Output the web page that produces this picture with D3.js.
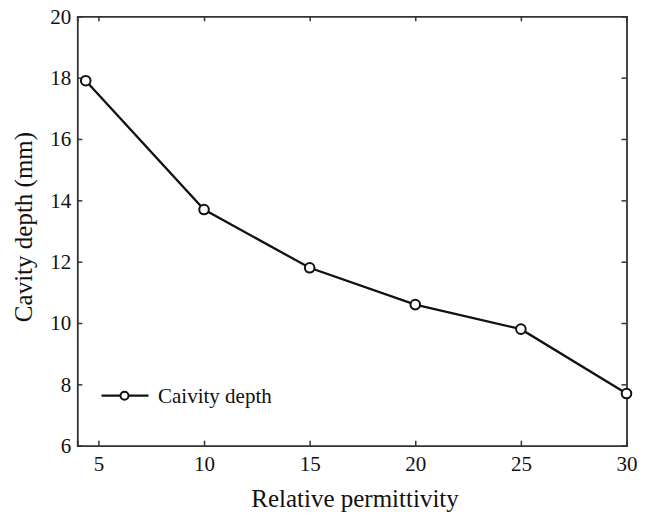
<!DOCTYPE html>
<html>
<head>
<meta charset="utf-8">
<script src="https://cdn.jsdelivr.net/npm/d3@7"></script>
<style>
  body { margin: 0; background: #fff; }
  svg { display: block; }
  text { font-family: "Liberation Serif", "Times New Roman", serif; fill: #111; }
</style>
</head>
<body>
<svg id="chart" width="649" height="515"></svg>
<script>
// Cavity depth versus relative permittivity
const permittivity = [4.4, 10, 15, 20, 25, 30];
const cavityDepth = [17.9, 13.7, 11.8, 10.6, 9.8, 7.7];
const xTicks = [5, 10, 15, 20, 25, 30];
const yTicks = [6, 8, 10, 12, 14, 16, 18, 20];
const seriesName = "Caivity depth";

const svg = d3.select("#chart");
const margin = { left: 77.3, right: 22.5, top: 16.3, bottom: 69.3 };
const W = 649, H = 515;

const x = d3.scaleLinear().domain([4, 30]).range([margin.left, W - margin.right]);
const y = d3.scaleLinear().domain([6, 20]).range([H - margin.bottom, margin.top]);

const stroke = "#333";
const tickLen = 5;
const serif = "'Liberation Serif', 'Times New Roman', serif";

// Bottom axis with inward ticks
const xAxis = svg.append("g")
  .attr("transform", `translate(0,${y(6)})`)
  .call(d3.axisBottom(x).tickValues(xTicks).tickSize(-tickLen).tickPadding(10).tickFormat(d3.format("d")));
// Top mirror ticks
const xAxisTop = svg.append("g")
  .attr("transform", `translate(0,${y(20)})`)
  .call(d3.axisTop(x).tickValues(xTicks).tickSize(-tickLen).tickFormat(""));
// Left axis
const yAxis = svg.append("g")
  .attr("transform", `translate(${x(4)},0)`)
  .call(d3.axisLeft(y).tickValues(yTicks).tickSize(-tickLen).tickPadding(6).tickFormat(d3.format("d")));
// Right mirror ticks
const yAxisRight = svg.append("g")
  .attr("transform", `translate(${x(30)},0)`)
  .call(d3.axisRight(y).tickValues(yTicks).tickSize(-tickLen).tickFormat(""));

[xAxis, xAxisTop, yAxis, yAxisRight].forEach(g => {
  g.select(".domain").attr("stroke", stroke).attr("stroke-width", 1.8);
  g.selectAll(".tick line").attr("stroke", stroke).attr("stroke-width", 1.5);
  g.selectAll(".tick text")
    .attr("font-family", serif)
    .attr("font-size", 21)
    .attr("fill", "#111");
});
// Drop the ticks that would sit on the frame corners
xAxis.selectAll(".tick").filter(d => d === 30).select("line").remove();
xAxisTop.selectAll(".tick").filter(d => d === 30).select("line").remove();
yAxis.selectAll(".tick").filter(d => d === 6 || d === 20).select("line").remove();
yAxisRight.selectAll(".tick").filter(d => d === 6 || d === 20).select("line").remove();

// Data line with open circle markers
const pts = permittivity.map((p, i) => [p, cavityDepth[i]]);
svg.append("path")
  .datum(pts)
  .attr("fill", "none")
  .attr("stroke", "#111")
  .attr("stroke-width", 2.3)
  .attr("d", d3.line().x(d => x(d[0])).y(d => y(d[1])));

svg.append("g").selectAll("circle")
  .data(pts)
  .join("circle")
  .attr("cx", d => x(d[0]))
  .attr("cy", d => y(d[1]))
  .attr("r", 4.8)
  .attr("fill", "#fff")
  .attr("stroke", "#111")
  .attr("stroke-width", 2);

// Legend
const lg = svg.append("g").attr("transform", "translate(101.5,395.7)");
lg.append("line").attr("x1", 0).attr("x2", 47).attr("y1", 0).attr("y2", 0)
  .attr("stroke", "#111").attr("stroke-width", 2.3);
lg.append("circle").attr("cx", 23).attr("cy", 0).attr("r", 4)
  .attr("fill", "#fff").attr("stroke", "#111").attr("stroke-width", 2);
lg.append("text").attr("x", 56.5).attr("y", 0).attr("dy", "0.33em")
  .attr("font-size", 21).text(seriesName);

// Axis titles
svg.append("text")
  .attr("x", 355)
  .attr("y", 507)
  .attr("text-anchor", "middle")
  .attr("font-size", 25)
  .text("Relative permittivity");

svg.append("text")
  .attr("transform", "translate(31.5,227) rotate(-90)")
  .attr("text-anchor", "middle")
  .attr("font-size", 25)
  .text("Cavity depth (mm)");
</script>
</body>
</html>
